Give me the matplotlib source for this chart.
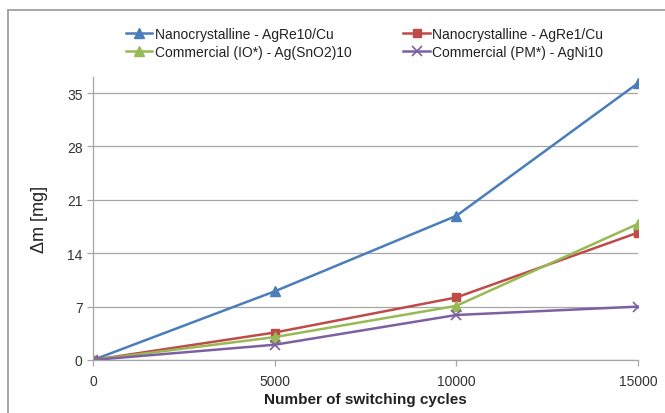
import matplotlib
matplotlib.use("Agg")
import matplotlib.pyplot as plt
from matplotlib.lines import Line2D

# switching cycles and mass loss [mg]
cycles = [0, 5000, 10000, 15000]
agre10_cu = [0, 9.0, 18.9, 36.3]
agre1_cu = [0, 3.6, 8.2, 16.7]
ag_sno2 = [0, 3.0, 7.1, 17.85]
agni10 = [0, 2.0, 5.9, 7.0]

labels = ["Nanocrystalline - AgRe10/Cu", "Nanocrystalline - AgRe1/Cu",
          "Commercial (IO*) - Ag(SnO2)10", "Commercial (PM*) - AgNi10"]
yticks = [0, 7, 14, 21, 28, 35]
xticks = [0, 5000, 10000, 15000]

plt.rcParams['font.family'] = ['Liberation Sans', 'DejaVu Sans']

fig = plt.figure(figsize=(6.65, 4.14), dpi=100)
ax = fig.add_axes([93 / 665, 53 / 414, 545 / 665, 283 / 414])

grey = '#a6a6a6'
l1, = ax.plot(cycles, agre10_cu, color='#4a7ebb', lw=1.8, marker='^', ms=7, label=labels[0])
l2, = ax.plot(cycles, agre1_cu, color='#be4b48', lw=1.8, marker='s', ms=6, label=labels[1])
l3, = ax.plot(cycles, ag_sno2, color='#98b954', lw=1.8, marker='^', ms=7, label=labels[2])
l4, = ax.plot(cycles, agni10, color='#7d60a0', lw=1.8, marker='x', ms=7, mew=1.2, label=labels[3])

ax.set_xlim(0, 15000)
ax.set_ylim(0, 37.1)
ax.set_xticks(xticks)
ax.set_yticks(yticks)
ax.grid(axis='y', color=grey, lw=0.9)
ax.set_axisbelow(True)
for s in ['top', 'right']:
    ax.spines[s].set_visible(False)
for s in ['left', 'bottom']:
    ax.spines[s].set_color(grey)
    ax.spines[s].set_linewidth(0.9)
ax.tick_params(colors=grey, labelcolor='#333333', labelsize=10, length=4, width=0.9)
ax.tick_params(axis='x', pad=6)

ax.set_xlabel('Number of switching cycles', fontsize=11, fontweight='bold', color='#222222', labelpad=3)
ax.set_ylabel('Δm [mg]', fontsize=13, color='#222222', labelpad=14)

ax.legend(handles=[l1, l3, l2, l4], ncol=2, loc='upper left',
          bbox_to_anchor=(126 / 665, 1 - 28 / 414), bbox_transform=fig.transFigure,
          frameon=False, fontsize=10, handlelength=1.9, handletextpad=0.2,
          columnspacing=3.7, labelspacing=0.3, borderaxespad=0, borderpad=0,
          labelcolor='#222222')

# outer chart frame
fig.add_artist(Line2D([7.5 / 665, 7.5 / 665], [0, 1 - 10.5 / 414], color=grey, lw=1.4))
fig.add_artist(Line2D([7.5 / 665, 1], [1 - 10.5 / 414, 1 - 10.5 / 414], color=grey, lw=1.4))

fig.savefig('out.png', dpi=100)
